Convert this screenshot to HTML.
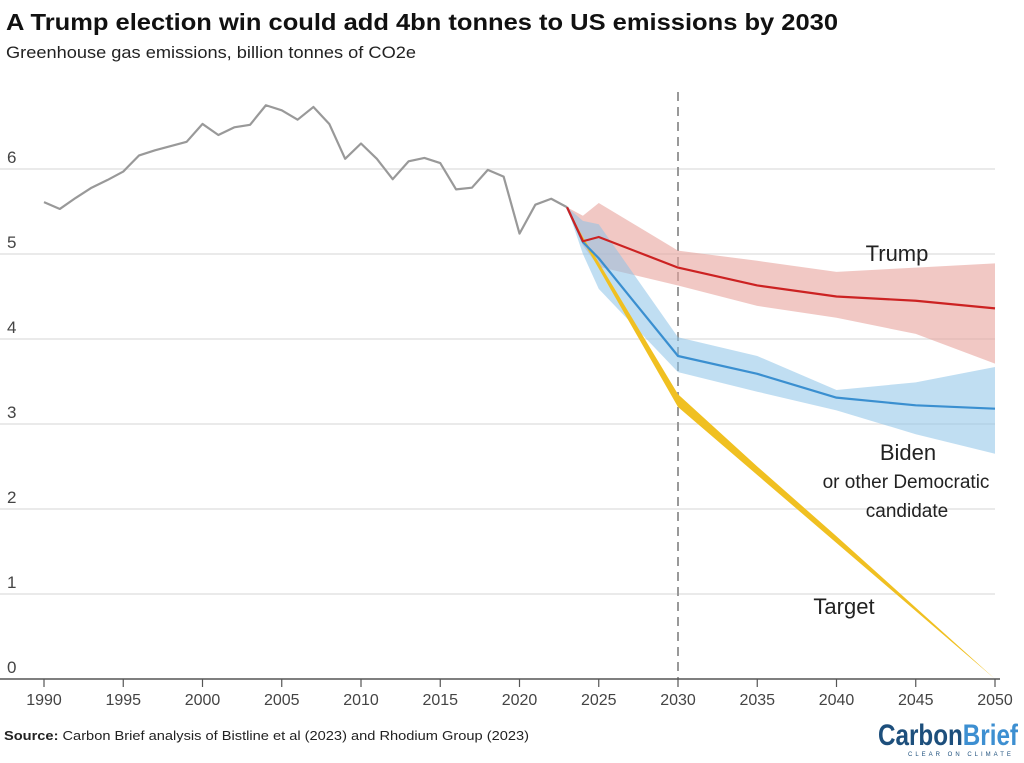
<!DOCTYPE html>
<html><head><meta charset="utf-8"><style>
html,body{margin:0;padding:0;background:#fff;}
svg{display:block;font-family:"Liberation Sans",sans-serif;}
</style></head><body>
<svg id="chart" width="1024" height="763" viewBox="0 0 1024 763">
<text x="6" y="30" font-size="23" font-weight="bold" fill="#111" textLength="832" lengthAdjust="spacingAndGlyphs">A Trump election win could add 4bn tonnes to US emissions by 2030</text>
<text x="6" y="58" font-size="17" fill="#222" textLength="410" lengthAdjust="spacingAndGlyphs">Greenhouse gas emissions, billion tonnes of CO2e</text>
<g id="grid"></g><g id="bands"></g><g id="lines"></g><g id="axis"></g>
<text x="897" y="261" font-size="22" fill="#222" text-anchor="middle">Trump</text>
<text x="908" y="460" font-size="22" fill="#222" text-anchor="middle">Biden</text>
<text x="906" y="488" font-size="19" fill="#222" text-anchor="middle">or other Democratic</text>
<text x="907" y="517" font-size="19" fill="#222" text-anchor="middle">candidate</text>
<text x="844" y="614" font-size="22" fill="#222" text-anchor="middle">Target</text>
<text x="4" y="740" font-size="13" fill="#222" textLength="525" lengthAdjust="spacingAndGlyphs"><tspan font-weight="bold">Source:</tspan> Carbon Brief analysis of Bistline et al (2023) and Rhodium Group (2023)</text>
<text x="878" y="745" font-size="30" font-weight="bold" textLength="140" lengthAdjust="spacingAndGlyphs"><tspan fill="#1d4f7c">Carbon</tspan><tspan fill="#3d8fd1">Brief</tspan></text>
<text x="908" y="756" font-size="6" fill="#1d4f7c" letter-spacing="3">CLEAR ON CLIMATE</text>
</svg>
<script>
const histYears=[1990,1991,1992,1993,1994,1995,1996,1997,1998,1999,2000,2001,2002,2003,2004,2005,2006,2007,2008,2009,2010,2011,2012,2013,2014,2015,2016,2017,2018,2019,2020,2021,2022,2023];
const histValues=[5.61,5.53,5.66,5.78,5.87,5.97,6.16,6.22,6.27,6.32,6.53,6.40,6.49,6.52,6.75,6.69,6.58,6.73,6.53,6.12,6.30,6.12,5.88,6.09,6.13,6.07,5.76,5.78,5.99,5.91,5.24,5.58,5.65,5.55];
const projYears=[2023,2024,2025,2030,2035,2040,2045,2050];
const trumpValues=[5.55,5.15,5.20,4.84,4.63,4.50,4.45,4.36];
const trumpUpper=[5.55,5.45,5.60,5.04,4.92,4.79,4.84,4.89];
const trumpLower=[5.55,5.10,4.85,4.63,4.39,4.25,4.06,3.71];
const bidenValues=[5.55,5.14,4.95,3.80,3.59,3.31,3.22,3.18];
const bidenUpper=[5.55,5.39,5.35,4.02,3.80,3.40,3.49,3.67];
const bidenLower=[5.55,5.00,4.59,3.61,3.38,3.16,2.88,2.65];
const targetUpper=[5.55,5.20,4.90,3.35,2.50,1.68,0.84,0.0];
const targetLower=[5.55,5.15,4.83,3.20,2.40,1.60,0.80,0.0];
const yTicks=[0,1,2,3,4,5,6];
const xTicks=[1990,1995,2000,2005,2010,2015,2020,2025,2030,2035,2040,2045,2050];

const NS='http://www.w3.org/2000/svg';
const x=yr=>44+(yr-1990)*(951/60);
const y=v=>679-v*85;
function mk(tag,attrs,parent){const e=document.createElementNS(NS,tag);for(const k in attrs)e.setAttribute(k,attrs[k]);document.getElementById(parent).appendChild(e);return e;}
yTicks.forEach(t=>{
  if(t>0){const g=mk('line',{x1:0,x2:995,y1:y(t),y2:y(t),stroke:'#e4e4e4','stroke-width':1.5},'grid');
  
  }
  const l=mk('text',{x:7,y:y(t)-6,'font-size':17,fill:'#444'},'grid');l.textContent=t;
  
  
});
const dash=mk('line',{x1:x(2030),x2:x(2030),y1:92,y2:679,stroke:'#999','stroke-width':2,'stroke-dasharray':'9,6'},'grid');


function band(up,lo,fill,op,name){
  const pts=projYears.map((yr,i)=>x(yr)+','+y(up[i])).concat(projYears.map((yr,i)=>x(yr)+','+y(lo[i])).reverse());
  const p=mk('polygon',{points:pts.join(' '),fill:fill,'fill-opacity':op},'bands');
  
  
}
band(trumpUpper,trumpLower,'#e8a39c',0.6,'trump-range');
band(bidenUpper,bidenLower,'#8dc3e8',0.55,'biden-range');
band(targetUpper,targetLower,'#f0c021',1,'target-band');
function line(xs,vs,color,w,name){
  const p=mk('polyline',{points:xs.map((yr,i)=>x(yr)+','+y(vs[i])).join(' '),fill:'none',stroke:color,'stroke-width':w,'stroke-linejoin':'round'},'lines');
  
  
}
line(histYears,histValues,'#999',2.2,'historical-line');
line(projYears,bidenValues,'#3a8fd0',2.2,'biden-line');
line(projYears,trumpValues,'#cc2222',2.2,'trump-line');
const ax=mk('line',{x1:0,x2:1000,y1:679,y2:679,stroke:'#555','stroke-width':1.5},'axis');


xTicks.forEach(t=>{
  const tk=mk('line',{x1:x(t),x2:x(t),y1:679,y2:687,stroke:'#555','stroke-width':1.2},'axis');
  
  
  const l=mk('text',{x:x(t),y:705,'font-size':16,fill:'#444','text-anchor':'middle'},'axis');l.textContent=t;
  
  
});
</script>
</body></html>
